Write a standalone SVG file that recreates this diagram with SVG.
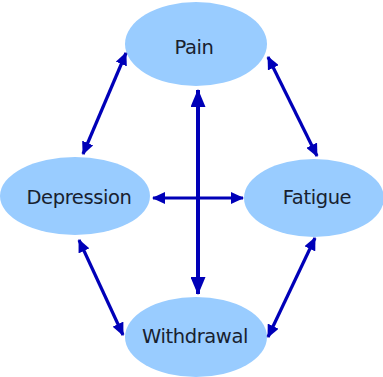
<svg xmlns="http://www.w3.org/2000/svg" width="383" height="377" viewBox="0 0 383 377">
<style>
.node ellipse{fill:#99ccff}
.node text{font-family:"DejaVu Sans",Verdana,sans-serif;font-size:19.5px;letter-spacing:-0.4px;fill:#18212f;text-anchor:middle}
.conn line{stroke:#0000b8;stroke-width:3.2}
.conn line.thick{stroke-width:4}
</style>
<defs>
<marker id="ah" viewBox="0 0 13 12" refX="12" refY="6" markerWidth="13" markerHeight="12" markerUnits="userSpaceOnUse" orient="auto-start-reverse">
<path d="M0,0 L13,6 L0,12 Z" fill="#0000b8"/>
</marker>
<marker id="ahb" viewBox="0 0 18 15" refX="17" refY="7.5" markerWidth="18" markerHeight="15" markerUnits="userSpaceOnUse" orient="auto-start-reverse">
<path d="M0,0 L18,7.5 L0,15 Z" fill="#0000b8"/>
</marker>
</defs>
<rect width="383" height="377" fill="#ffffff"/>
<g id="pain" class="node"><ellipse cx="196" cy="44" rx="71" ry="42"/><text x="194" y="54">Pain</text></g>
<g id="depression" class="node"><ellipse cx="75" cy="196" rx="75" ry="39"/><text x="79" y="204">Depression</text></g>
<g id="fatigue" class="node"><ellipse cx="314" cy="198" rx="70" ry="39"/><text x="317" y="204">Fatigue</text></g>
<g id="withdrawal" class="node"><ellipse cx="196" cy="337" rx="71" ry="40"/><text x="195" y="343">Withdrawal</text></g>
<g id="connectors" class="conn">
<line x1="83" y1="154" x2="126" y2="53" marker-start="url(#ah)" marker-end="url(#ah)"/>
<line x1="268" y1="57" x2="317" y2="156" marker-start="url(#ah)" marker-end="url(#ah)"/>
<line x1="79" y1="240" x2="123" y2="335" marker-start="url(#ah)" marker-end="url(#ah)"/>
<line x1="315" y1="238" x2="268" y2="337" marker-start="url(#ah)" marker-end="url(#ah)"/>
<line x1="153" y1="198" x2="243" y2="198" marker-start="url(#ah)" marker-end="url(#ah)"/>
<line class="thick" x1="198" y1="90" x2="198" y2="294" marker-start="url(#ahb)" marker-end="url(#ahb)"/>
</g>
</svg>
